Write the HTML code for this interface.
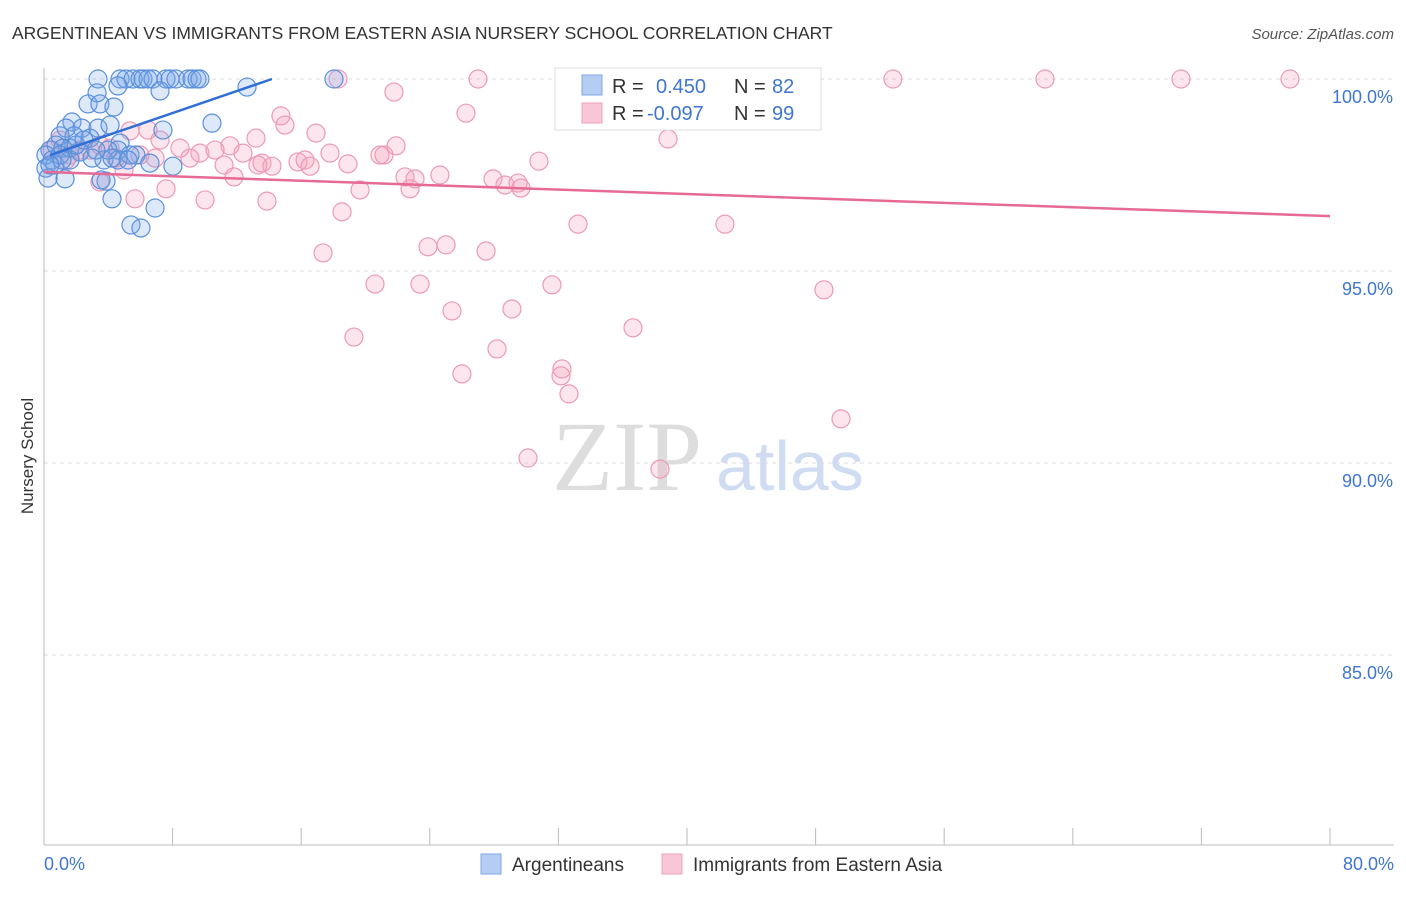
<!DOCTYPE html>
<html><head><meta charset="utf-8"><style>
body{margin:0;background:#fff;font-family:"Liberation Sans",sans-serif;}
svg text{font-family:"Liberation Sans",sans-serif;}
</style></head><body>
<svg id="chart" width="1406" height="892" viewBox="0 0 1406 892" xmlns="http://www.w3.org/2000/svg">
<text x="12" y="39" font-size="17.5" fill="#333">ARGENTINEAN VS IMMIGRANTS FROM EASTERN ASIA NURSERY SCHOOL CORRELATION CHART</text>
<text x="1394" y="39" font-size="15" fill="#555" font-style="italic" text-anchor="end">Source: ZipAtlas.com</text>
<text transform="translate(33,456) rotate(-90)" font-size="17" fill="#333" text-anchor="middle">Nursery School</text>
<g id="grid"></g>
<text x="552" y="490" font-size="100" fill="#ddd" style="font-family:'Liberation Serif',serif">ZIP</text>
<text x="716" y="490" font-size="70" fill="#cfdcf2">atlas</text>
<g id="pts"></g>
<g id="lines"></g>
<g>
<rect x="555" y="68" width="266" height="62" fill="#fff" stroke="#ddd"/>
<rect x="582" y="75" width="20" height="20" fill="#b5cdf2" stroke="#7ea5e6"/>
<rect x="582" y="103" width="20" height="20" fill="#f8c6d6" stroke="#eea2bb"/>
<text x="612" y="93" font-size="20" fill="#333">R = </text><text x="656" y="93" font-size="20" fill="#3f76d0">0.450</text>
<text x="734" y="93" font-size="20" fill="#333">N = </text><text x="772" y="93" font-size="20" fill="#3f76d0">82</text>
<text x="612" y="120" font-size="20" fill="#333">R = </text><text x="647" y="120" font-size="20" fill="#3f76d0">-0.097</text>
<text x="734" y="120" font-size="20" fill="#333">N = </text><text x="772" y="120" font-size="20" fill="#3f76d0">99</text>
</g>
<g>
<rect x="481" y="854" width="20" height="20" fill="#b5cdf2" stroke="#7ea5e6"/>
<text x="512" y="871" font-size="19" fill="#333">Argentineans</text>
<rect x="662" y="854" width="20" height="20" fill="#f8c6d6" stroke="#eea2bb"/>
<text x="693" y="871" font-size="19" fill="#333">Immigrants from Eastern Asia</text>
</g>
<text x="44" y="870" font-size="18" fill="#3f76d0">0.0%</text>
<text x="1394" y="870" font-size="18" fill="#3f76d0" text-anchor="end">80.0%</text>
</svg>
<script>
const yTicks=[100,95,90,85];
const xTicks=[0,8,16,24,32,40,48,56,64,72,80];
const bluePx=[[98,79],[120,79],[126,79],[133,79],[140,79],[143,79],[148,79],[153,79],[166,79],[170,79],[176,79],[188,79],[192,79],[197,79],[200,79],[334,79],[247,87],[118,86],[160,91],[97,93],[88,104],[100,104],[114,107],[72,122],[82,128],[66,128],[98,128],[110,125],[163,130],[212,123],[74,136],[60,136],[90,138],[50,150],[56,145],[63,148],[46,155],[52,160],[70,148],[80,152],[120,143],[118,150],[104,160],[130,155],[136,155],[92,158],[118,160],[150,163],[173,166],[46,168],[55,165],[70,160],[48,178],[65,179],[106,181],[101,180],[112,199],[155,208],[131,225],[141,228],[60,155],[76,145],[84,140],[108,150],[96,150],[62,160],[50,165],[112,158],[128,160]];
const pinkPx=[[338,79],[478,79],[670,79],[893,79],[1045,79],[1181,79],[1290,79],[740,79],[394,92],[281,116],[466,113],[668,139],[285,125],[316,133],[256,138],[130,131],[148,130],[180,148],[200,153],[230,146],[243,153],[262,163],[272,166],[298,162],[305,160],[310,166],[330,153],[348,164],[380,155],[384,155],[396,146],[224,165],[234,177],[258,165],[405,177],[415,179],[410,189],[440,175],[493,179],[505,185],[518,183],[521,188],[539,161],[360,190],[166,189],[205,200],[267,201],[135,199],[100,182],[124,170],[342,212],[578,224],[725,224],[323,253],[428,247],[446,245],[486,251],[375,284],[420,284],[552,285],[824,290],[452,311],[512,309],[354,337],[633,328],[497,349],[462,374],[562,369],[561,376],[569,394],[841,419],[528,458],[660,469],[60,140],[52,150],[70,155],[90,150],[110,148],[140,155],[155,158],[160,140],[190,158],[215,150],[66,160],[80,150],[100,145],[116,158]];
// convert pixel estimates into data values (x %, y %)
const blueX=bluePx.map(p=>+((p[0]-44)/16.075).toFixed(2));
const blueY=bluePx.map(p=>+(100-(p[1]-79)/38.4).toFixed(2));
const pinkX=pinkPx.map(p=>+((p[0]-44)/16.075).toFixed(2));
const pinkY=pinkPx.map(p=>+(100-(p[1]-79)/38.4).toFixed(2));
const blueTrend=[[0,98.02],[14.18,100]];
const pinkTrend=[[0,97.58],[80,96.43]];
const X=v=>44+v*16.075, Y=v=>79+(100-v)*38.4;
const NS="http://www.w3.org/2000/svg";
function mk(t,a,parent){const e=document.createElementNS(NS,t);for(const k in a)e.setAttribute(k,a[k]);parent.appendChild(e);return e;}
const grid=document.getElementById('grid');
yTicks.forEach(v=>{
 const l=mk('line',{x1:44,x2:1394,y1:Y(v),y2:Y(v),stroke:'#ddd','stroke-dasharray':'4,4'},grid);
 
 
 const t=mk('text',{x:1393,y:Y(v)+24,'font-size':18,fill:'#3f76d0','text-anchor':'end'},grid);
 t.textContent=v.toFixed(1)+'%';
 
 
});
const ax=mk('line',{x1:44,x2:44,y1:68,y2:845,stroke:'#bbb'},grid);


const bx=mk('line',{x1:44,x2:1394,y1:845,y2:845,stroke:'#bbb'},grid);


xTicks.forEach(v=>{
 const t=mk('line',{x1:X(v),x2:X(v),y1:828,y2:845,stroke:'#bbb'},grid);
 
 
});
const pts=document.getElementById('pts');
pinkX.forEach((x,i)=>{
 const c=mk('circle',{cx:X(x),cy:Y(pinkY[i]),r:9,fill:'rgba(244,160,188,0.28)',stroke:'#ec9ab5','stroke-width':1.2},pts);
 
 
});
blueX.forEach((x,i)=>{
 const c=mk('circle',{cx:X(x),cy:Y(blueY[i]),r:9,fill:'rgba(120,165,232,0.25)',stroke:'#5a90da','stroke-width':1.2},pts);
 
 
});
const lines=document.getElementById('lines');
const bl=mk('line',{x1:X(blueTrend[0][0])+6,y1:Y(blueTrend[0][1]),x2:X(blueTrend[1][0]),y2:Y(blueTrend[1][1]),stroke:'#2f6fd6','stroke-width':2.5},lines);


const pl=mk('line',{x1:X(pinkTrend[0][0]),y1:Y(pinkTrend[0][1]),x2:X(pinkTrend[1][0]),y2:Y(pinkTrend[1][1]),stroke:'#e76a96','stroke-width':2.5},lines);


</script>
</body></html>
